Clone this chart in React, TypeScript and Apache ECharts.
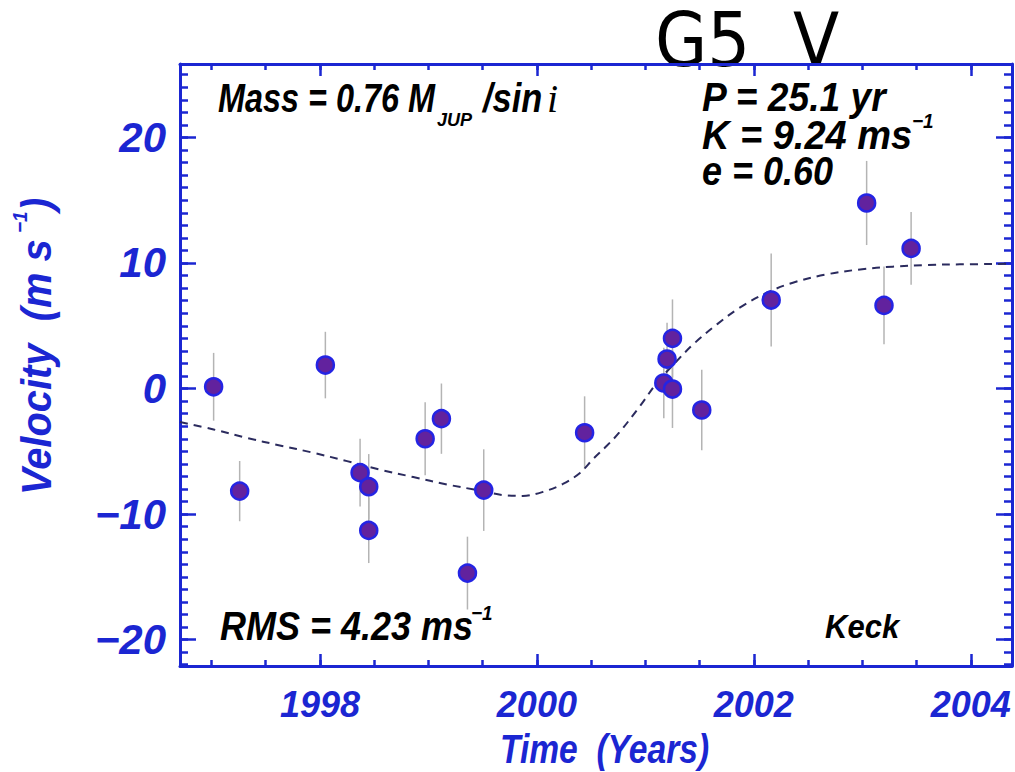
import React, { useEffect, useRef } from "react";
import * as echarts from "echarts";

// ---- data ----
const obsYears = [1997.02, 1997.26, 1998.05, 1998.37, 1998.45, 1998.45, 1998.97, 1999.12, 1999.36, 1999.51,
  2000.44, 2001.17, 2001.20, 2001.25, 2001.25, 2001.52, 2002.16, 2003.04, 2003.20, 2003.45];
const obsVelocity = [0.14, -8.17, 1.87, -6.7, -7.82, -11.3, -4.0, -2.4, -14.7, -8.09,
  -3.52, 0.44, 2.35, -0.04, 4.0, -1.71, 7.05, 14.78, 6.62, 11.16];
const obsError = [2.7, 2.4, 2.65, 2.7, 2.6, 2.6, 2.9, 2.8, 2.9, 3.25,
  2.9, 2.8, 2.9, 3.1, 3.1, 3.2, 3.7, 3.35, 3.1, 2.9];

const fitYears = [1996.71, 1997.02, 1997.32, 1997.63, 1997.94, 1998.25, 1998.55, 1998.86, 1999.17, 1999.47,
  1999.70, 1999.87, 2000.05, 2000.24, 2000.40, 2000.52, 2000.64, 2000.76, 2000.95, 2001.11,
  2001.26, 2001.44, 2001.66, 2001.87, 2002.12, 2002.36, 2002.67, 2002.98, 2003.28, 2003.59, 2003.90, 2004.38];
const fitVelocity = [-2.67, -3.26, -3.92, -4.53, -5.12, -5.78, -6.45, -7.05, -7.64, -8.12,
  -8.50, -8.55, -8.25, -7.60, -6.70, -5.60, -4.60, -3.50, -1.40, 0.50,
  1.92, 3.51, 5.11, 6.44, 7.63, 8.43, 9.09, 9.49, 9.71, 9.84, 9.89, 9.94];

const xMajorTicks = [1998, 2000, 2002, 2004];
const xMinorTicks = [1997, 1997.5, 1998, 1998.5, 1999, 1999.5, 2000, 2000.5, 2001, 2001.5, 2002, 2002.5, 2003, 2003.5, 2004];
const yMajorTicks = [-20, -10, 0, 10, 20];
const yMinorTicks = [-22, -21, -20, -19, -18, -17, -16, -15, -14, -13, -12, -11, -10, -9, -8, -7, -6, -5, -4, -3, -2, -1,
  0, 1, 2, 3, 4, 5, 6, 7, 8, 9, 10, 11, 12, 13, 14, 15, 16, 17, 18, 19, 20, 21, 22, 23, 24, 25];

const X_MIN = 1996.71;
const X_MAX = 2004.38;
const Y_MIN = -22.1;
const Y_MAX = 25.85;

const BLUE = "#1b26d2";
const SANS = "'Liberation Sans', Arial, sans-serif";

function xAxisDef(position: string, ticks: number[], len: number, showLine: boolean, showLabel: boolean) {
  return {
    type: "value",
    position,
    min: X_MIN,
    max: X_MAX,
    axisLine: { show: showLine, onZero: false, lineStyle: { color: BLUE, width: 3 } },
    axisTick: { show: true, inside: true, length: len, customValues: ticks, lineStyle: { color: BLUE, width: 2.5 } },
    axisLabel: {
      show: showLabel,
      customValues: ticks,
      margin: 20,
      color: BLUE,
      fontFamily: SANS,
      fontSize: 36,
      fontWeight: "bold",
      fontStyle: "italic",
      formatter: (v: number) => String(Math.round(v)),
    },
    splitLine: { show: false },
  };
}

function yAxisDef(position: string, ticks: number[], len: number, showLine: boolean, showLabel: boolean) {
  return {
    type: "value",
    position,
    min: Y_MIN,
    max: Y_MAX,
    axisLine: { show: showLine, onZero: false, lineStyle: { color: BLUE, width: 3 } },
    axisTick: { show: true, inside: true, length: len, customValues: ticks, lineStyle: { color: BLUE, width: 2.5 } },
    axisLabel: {
      show: showLabel,
      customValues: ticks,
      margin: 14,
      color: BLUE,
      fontFamily: SANS,
      fontSize: 42,
      fontWeight: "bold",
      fontStyle: "italic",
      formatter: (v: number) => (v < 0 ? "\u2212" + Math.abs(v) : String(v)),
    },
    splitLine: { show: false },
  };
}

function txt(text: string, x: number, y: number, size: number, opts: any = {}) {
  return {
    type: "text",
    x,
    y,
    scaleX: opts.sx || 1,
    silent: true,
    style: {
      text,
      fill: opts.fill || "#000",
      fontFamily: opts.family || SANS,
      fontSize: size,
      fontWeight: opts.weight || "bold",
      fontStyle: opts.style || "italic",
      align: "left",
      verticalAlign: "middle",
    },
  };
}

export default function App() {
  const ref = useRef<HTMLDivElement>(null);
  useEffect(() => {
    if (!ref.current) return;
    const chart = echarts.init(ref.current, null, { renderer: "svg" });
    const option: any = {
      animation: false,
      backgroundColor: "#fff",
      grid: { left: 180, right: 3, top: 64, bottom: 106, containLabel: false },
      xAxis: [
        xAxisDef("bottom", xMajorTicks, 12, true, true),
        xAxisDef("bottom", xMinorTicks, 6, false, false),
        xAxisDef("top", xMajorTicks, 12, true, false),
        xAxisDef("top", xMinorTicks, 6, false, false),
      ],
      yAxis: [
        yAxisDef("left", yMajorTicks, 16, true, true),
        yAxisDef("left", yMinorTicks, 8, false, false),
        yAxisDef("right", yMajorTicks, 16, true, false),
        yAxisDef("right", yMinorTicks, 8, false, false),
      ],
      series: [
        {
          type: "custom",
          xAxisIndex: 0,
          yAxisIndex: 0,
          z: 1,
          encode: { x: 0, y: 1 },
          data: obsYears.map((t, i) => [t, obsVelocity[i], obsError[i]]),
          renderItem: (params: any, api: any) => {
            const x = api.value(0);
            const y = api.value(1);
            const e = api.value(2);
            const p1 = api.coord([x, y - e]);
            const p2 = api.coord([x, y + e]);
            return {
              type: "line",
              shape: { x1: p1[0], y1: p1[1], x2: p2[0], y2: p2[1] },
              style: { stroke: "#b4b4b4", lineWidth: 1.5 },
            };
          },
        },
        {
          type: "line",
          xAxisIndex: 0,
          yAxisIndex: 0,
          z: 2,
          data: fitYears.map((t, i) => [t, fitVelocity[i]]),
          smooth: 0.35,
          showSymbol: false,
          lineStyle: { color: "#2b2b5e", width: 2, type: [8, 6] },
        },
        {
          type: "scatter",
          xAxisIndex: 0,
          yAxisIndex: 0,
          z: 3,
          data: obsYears.map((t, i) => [t, obsVelocity[i]]),
          symbol: "circle",
          symbolSize: 17,
          itemStyle: { color: "#62229e", borderColor: "#2424e4", borderWidth: 2.5, opacity: 1 },
        },
      ],
      graphic: [
        txt("G5  V", 655, 40, 75, { family: "'DejaVu Sans Condensed', 'DejaVu Sans', sans-serif", weight: "normal", style: "normal" }),
        txt("Mass = 0.76 M", 218, 98, 40, { sx: 0.81 }),
        txt("JUP", 437, 119, 19, { sx: 0.95 }),
        txt("/sin", 483, 98, 40, { sx: 0.86 }),
        txt("i", 547, 98, 40, { family: "'Liberation Serif', serif", weight: "normal" }),
        txt("P = 25.1 yr", 702, 97, 40, { sx: 0.93 }),
        txt("K = 9.24 ms", 702, 135, 40, { sx: 0.95 }),
        txt("\u22121", 912, 121, 21, { sx: 0.9 }),
        txt("e = 0.60", 702, 171, 40, { sx: 0.9 }),
        txt("RMS = 4.23 ms", 220, 626, 40, { sx: 0.9 }),
        txt("\u22121", 471, 613, 21, { sx: 0.9 }),
        txt("Keck", 825, 627, 33, { sx: 0.94 }),
        txt("Time  (Years)", 500, 749, 40, { fill: BLUE, sx: 0.84 }),
        {
          type: "group",
          x: 22,
          y: 495,
          rotation: Math.PI / 2,
          children: [
            txt("Velocity  (m s", 0, 15, 42, { fill: BLUE, sx: 0.95 }),
            txt("\u22121", 262, -2, 21, { fill: BLUE, sx: 0.9 }),
            txt(")", 284, 15, 42, { fill: BLUE, sx: 0.95 }),
          ],
        },
      ],
    };
    chart.setOption(option);
    return () => chart.dispose();
  }, []);
  return <div ref={ref} style={{ position: "absolute", left: 0, top: 0, width: 1015, height: 772 }} />;
}
